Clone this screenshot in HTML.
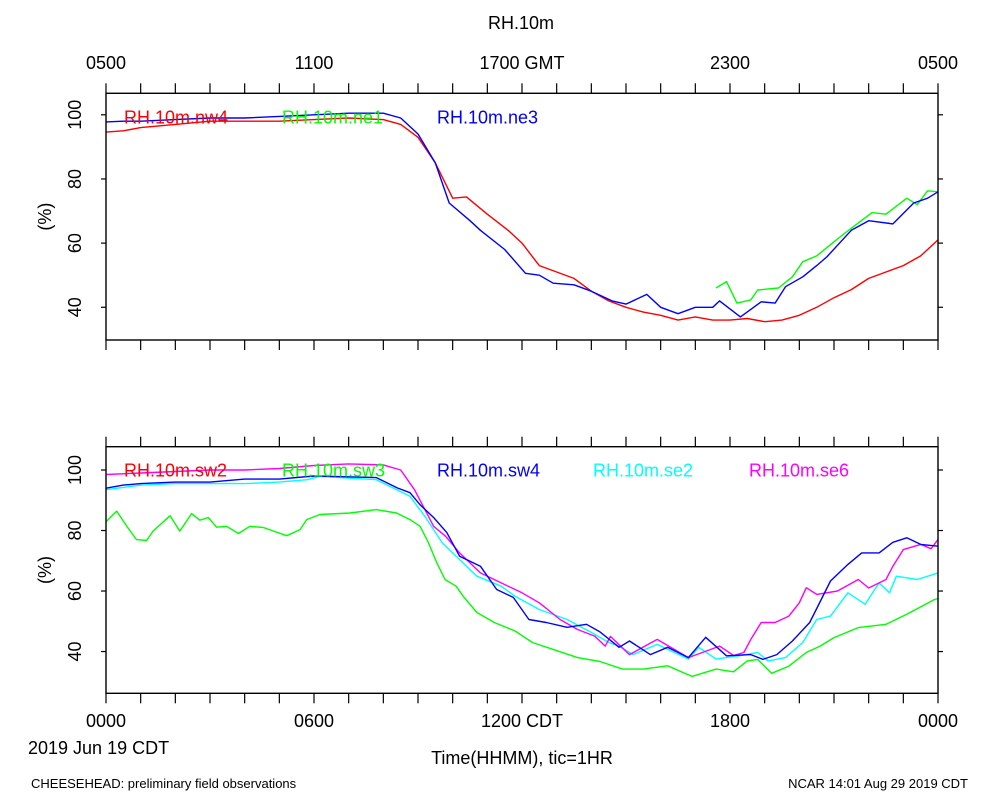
<!DOCTYPE html>
<html><head><meta charset="utf-8"><style>
html,body{margin:0;padding:0;background:#fff}
svg{display:block;font-family:"Liberation Sans",sans-serif}
</style></head><body>
<svg id="chart" width="1000" height="800" viewBox="0 0 1000 800" xmlns="http://www.w3.org/2000/svg">
<rect width="1000" height="800" fill="#fff"/>
<text x="521" y="29" font-size="18" text-anchor="middle">RH.10m</text>
<g id="topAxisLabels" font-size="18" text-anchor="middle"></g>
<g id="panels"></g>
<text x="28" y="754" font-size="18">2019 Jun 19 CDT</text>
<text x="522" y="764" font-size="18" text-anchor="middle">Time(HHMM), tic=1HR</text>
<text x="31" y="788" font-size="13">CHEESEHEAD: preliminary field observations</text>
<text x="968" y="788" font-size="13" text-anchor="end">NCAR 14:01 Aug 29 2019 CDT</text>
</svg>
<script>
// ---- data ----
const gmtTickLabels = ["0500","1100","1700 GMT","2300","0500"];
const cdtTickLabels = ["0000","0600","1200 CDT","1800","0000"];
const yTicks = [40,60,80,100];

const tNw4 = [0,0.5,1,2,3,4,5,6,7,8,8.5,9,9.5,10,10.4,11,11.6,12,12.5,13,13.5,14,14.5,15,15.5,16,16.5,17,17.5,18,18.5,19,19.5,20,20.5,21,21.5,22,22.5,23,23.5,24];
const vNw4 = [94.6,95,96,97,98,98,98,98.5,99,98.5,97,93,85,74,74.4,69,64,60,53,51,49,45,42,40,38.5,37.5,36,37,36,36,36.5,35.5,36,37.5,40,43,45.5,49,51,53,56,61];

const tNe1 = [17.6,17.9,18.2,18.6,18.8,19.4,19.8,20.1,20.5,21,21.3,21.7,22.1,22.5,23.1,23.4,23.7,24];
const vNe1 = [46,48,41.3,42.3,45.4,46,49.5,54.2,56,60.4,63,66.3,69.5,69,74,72,76.3,76];

const tNe3 = [0,0.5,1,2,3,4,5,6,7,8,8.5,9,9.5,9.9,10.5,10.8,11.5,12.1,12.5,12.9,13.5,14,14.6,15,15.6,16,16.5,17,17.5,17.7,18.3,18.9,19.3,19.6,20.1,20.5,20.8,21.5,22,22.7,23.3,23.7,24];
const vNe3 = [97.8,98,98,98.5,99,99,99.5,100,100.5,100.5,99,94,85,72.5,67,64,58,50.6,50,47.5,47,45,42,41,44,40,38,40,40,42,37,41.7,41.3,46.4,49.5,53,55.8,64,67,66,72.5,74,76];

const tSw3 = [0,0.31,0.6,0.88,1.17,1.36,1.85,2.13,2.47,2.71,2.95,3.19,3.48,3.82,4.15,4.54,5.21,5.6,5.79,6.17,7.04,7.8,8.38,8.77,9.06,9.3,9.54,9.78,10.1,10.3,10.7,11.2,11.8,12.3,12.9,13.6,14.25,14.9,15.5,16.2,16.9,17.6,18.1,18.5,18.8,19.2,19.7,20.2,20.6,21,21.7,22.5,23.1,23.9,24];
const vSw3 = [82.9,86.4,81.4,77,76.7,79.8,84.9,79.8,85.6,83.4,84.3,81.1,81.4,79,81.4,81,78.3,80.3,83.6,85.3,85.8,86.9,85.8,83.6,81.4,76,69.4,63.8,61.6,58.3,52.9,49.6,46.8,43,40.7,38,36.7,34.2,34.2,35.3,31.8,34.2,33.3,36.9,37.4,32.8,35.2,39.7,41.8,44.6,47.9,49,52.3,57.2,57.5];

const tSw4 = [0,0.5,1,2,3,4,5,6,6.55,7.8,8.4,8.77,9.06,9.45,9.83,10.2,10.8,11.27,11.75,12.2,12.7,13.3,13.86,14.25,14.8,15.1,15.7,16.2,16.8,17.3,17.9,18.6,18.95,19.35,19.8,20.3,20.9,21.4,21.8,22.3,22.7,23.1,23.5,24];
const vSw4 = [94,95,95.5,96,96,97,97,98,97.9,97.5,94.1,92.5,88.5,84.3,79.3,71.5,68.2,60.5,57.9,50.6,49.6,48,49,46.5,41.4,43.5,39,41.4,38,44.7,38.6,39,37.4,39,43.5,49.6,63.3,68.8,72.6,72.6,76.1,77.6,75.4,74.8];

const tSe2 = [0,1,2,3,4,5,5.8,6.17,7.8,8.77,9.2,9.7,10.2,10.7,11.4,11.8,12.5,13.3,14.1,14.5,14.8,15.2,15.9,16.8,17.1,17.6,18.3,18.8,19.1,19.6,20.1,20.5,20.9,21.4,21.9,22.3,22.6,22.8,23.4,24];
const vSe2 = [93.5,95,95.5,95.5,95.5,96,96.8,97.9,96.8,91.3,84.7,75.9,70.4,64.9,61.6,58.3,53.9,50.6,45.7,43,41.8,39,42.4,37.5,41.4,37.5,38.7,39.7,36.9,38,43,50.6,51.7,59.4,55.6,62.7,59.4,64.9,63.8,66];

const tSe6 = [0,1,2,3,4,5,6,7,8,8.5,8.9,9.2,9.45,9.8,10.2,10.8,11.4,12,12.5,13.1,13.6,14.1,14.4,14.55,15.1,15.9,16.8,17.7,18.1,18.4,18.6,18.9,19.3,19.7,20,20.2,20.5,21.1,21.7,22,22.5,22.7,23,23.5,23.8,24];
const vSe6 = [98.5,99,99.5,100,100,100.5,101.5,102,101.7,100,93.5,86.9,81.4,78.1,72.6,66,62.7,59.4,56.1,50.6,47.3,45.1,41.8,45,39,44,38,41.8,38.7,39.7,44,49.6,49.6,51.7,56.1,61.1,58.9,60,63.8,61,63.8,68.2,73.7,75.4,74,77];

// ---- layout ----
const NS="http://www.w3.org/2000/svg";
const X0=106, X1=938;
const panelsDef=[
 {name:"top",y0:93.3,y1:340,vmin:29.8,vmax:106.7,
  labels:[["RH.10m.nw4","#ff0000",124],["RH.10m.ne1","#00ff00",282],["RH.10m.ne3","#0000ff",437]],
  series:[["nw4",tNw4,vNw4,"#ff0000"],["ne1",tNe1,vNe1,"#00ff00"],["ne3",tNe3,vNe3,"#0000ff"]]},
 {name:"bottom",y0:446.7,y1:693.3,vmin:26.2,vmax:107.7,
  labels:[["RH.10m.sw2","#ff0000",124],["RH.10m.sw3","#00ff00",282],["RH.10m.sw4","#0000ff",437],["RH.10m.se2","#00ffff",593],["RH.10m.se6","#ff00ff",749]],
  series:[["sw3",tSw3,vSw3,"#00ff00"],["se2",tSe2,vSe2,"#00ffff"],["se6",tSe6,vSe6,"#ff00ff"],["sw4",tSw4,vSw4,"#0000ff"]]}
];
const xs=t=>X0+(X1-X0)*t/24;
function mk(tag,attrs,parent){const e=document.createElementNS(NS,tag);for(const k in attrs)e.setAttribute(k,attrs[k]);parent.appendChild(e);return e;}
const root=document.getElementById("panels");
const tal=document.getElementById("topAxisLabels");
gmtTickLabels.forEach((s,i)=>{
  const e=mk("text",{x:xs(i*6),y:69},tal);
  
  
  e.textContent=s;
});
panelsDef.forEach((p,pi)=>{
  const g=mk("g",{},root);
  
  
  const ys=v=>p.y1-(p.y1-p.y0)*(v-p.vmin)/(p.vmax-p.vmin);
  p.series.forEach(s=>{
    const d=s[1].map((t,i)=>(i?"L":"M")+xs(t).toFixed(1)+","+ys(s[2][i]).toFixed(1)).join("");
    const path=mk("path",{d:d,fill:"none",stroke:s[3],"stroke-width":1.4,"stroke-linejoin":"round"},g);
    
    
  });
  const fr=mk("rect",{x:X0,y:p.y0,width:X1-X0,height:p.y1-p.y0,fill:"none",stroke:"#000","stroke-width":1.4},g);
  
  
  for(let h=0;h<=24;h++){
    const x=xs(h);
    mk("line",{x1:x,x2:x,y1:p.y0,y2:p.y0-10,stroke:"#000","stroke-width":1.2},g);
    mk("line",{x1:x,x2:x,y1:p.y1,y2:p.y1+10,stroke:"#000","stroke-width":1.2},g);
  }
  yTicks.forEach(v=>{
    const y=ys(v);
    mk("line",{x1:X0,x2:X0-5,y1:y,y2:y,stroke:"#000","stroke-width":1.2},g);
    mk("line",{x1:X1,x2:X1+5,y1:y,y2:y,stroke:"#000","stroke-width":1.2},g);
    const t=mk("text",{x:0,y:0,"font-size":18,"text-anchor":"middle",transform:`translate(${X0-25},${y}) rotate(-90)`},g);
    
    
    t.textContent=v;
  });
  const yt=mk("text",{x:0,y:0,"font-size":18,"text-anchor":"middle",transform:`translate(51,${(p.y0+p.y1)/2}) rotate(-90)`},g);
  
  
  yt.textContent="(%)";
  p.labels.forEach(l=>{
    const t=mk("text",{x:l[2],y:p.y0+30,"font-size":18,fill:l[1]},g);
    
    
    t.textContent=l[0];
  });
  if(pi===1){
    cdtTickLabels.forEach((s,i)=>{
      const t=mk("text",{x:xs(i*6),y:727,"font-size":18,"text-anchor":"middle"},g);
      
      
      t.textContent=s;
    });
  }
});
</script>
</body></html>
